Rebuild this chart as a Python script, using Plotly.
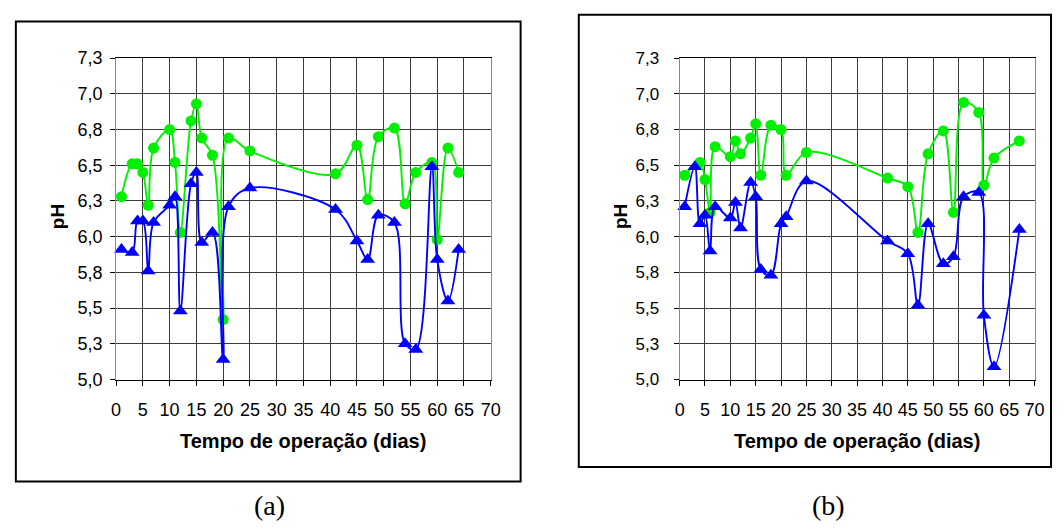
import plotly.graph_objects as go

# Reactor pH over the operation period, two runs (a) and (b)
days_a = [1, 3, 4, 5, 6, 7, 10, 11, 12, 14, 15, 16, 18, 20, 21, 25,
          41, 45, 47, 49, 52, 54, 56, 59, 60, 62, 64]
ph_a_green = [6.28, 6.51, 6.51, 6.45, 6.22, 6.62, 6.75, 6.52, 6.03, 6.81, 6.93,
              6.69, 6.57, 5.42, 6.69, 6.60, 6.44, 6.64, 6.26, 6.70, 6.76, 6.23,
              6.45, 6.52, 5.98, 6.62, 6.45]
ph_a_blue = [5.91, 5.89, 6.11, 6.11, 5.76, 6.10, 6.22, 6.28, 5.48, 6.37, 6.45,
             5.96, 6.03, 5.14, 6.21, 6.34, 6.19, 5.97, 5.84, 6.15, 6.10, 5.25,
             5.21, 6.49, 5.84, 5.55, 5.91]

days_b_green = [1, 4, 5, 6, 7, 10, 11, 12, 14, 15, 16, 18, 20, 21, 25,
                41, 45, 47, 49, 52, 54, 56, 59, 60, 62, 67]
ph_b_green = [6.43, 6.52, 6.40, 6.17, 6.63, 6.56, 6.67, 6.58, 6.69, 6.79, 6.43,
              6.78, 6.75, 6.43, 6.59, 6.41, 6.35, 6.03, 6.58, 6.74, 6.17, 6.94,
              6.87, 6.36, 6.55, 6.67]
days_b_blue = [1, 3, 4, 5, 6, 7, 10, 11, 12, 14, 15, 16, 18, 20, 21, 25,
               41, 45, 47, 49, 52, 54, 56, 59, 60, 62, 67]
ph_b_blue = [6.21, 6.49, 6.09, 6.15, 5.90, 6.21, 6.13, 6.24, 6.06, 6.38, 6.28,
             5.77, 5.73, 6.09, 6.14, 6.39, 5.97, 5.88, 5.52, 6.09, 5.81, 5.86,
             6.28, 6.31, 5.45, 5.09, 6.05]

y_ticks = [5.0, 5.25, 5.5, 5.75, 6.0, 6.25, 6.5, 6.75, 7.0, 7.25]
y_labels = ["5,0", "5,3", "5,5", "5,8", "6,0", "6,3", "6,5", "6,8", "7,0", "7,3"]
x_ticks = list(range(0, 75, 5))
x_labels = [str(v) for v in x_ticks]
panel_labels = ["(a)", "(b)"]

W, H = 1063, 531
GREEN = "#00f000"
BLUE = "#0000ff"
SANS = "Liberation Sans, Arial, sans-serif"


def px(x):
    return x / W


def py(y):
    return 1 - y / H


fig = go.Figure()


def add_series(xs, ys, color, symbol, size, xa, ya):
    fig.add_trace(go.Scatter(
        x=xs, y=ys, mode="lines+markers",
        line=dict(color=color, width=1.9, shape="spline", smoothing=1.0),
        marker=dict(color=color, symbol=symbol, size=size, line=dict(width=0)),
        xaxis=xa, yaxis=ya, showlegend=False, cliponaxis=False,
    ))


add_series(days_a, ph_a_green, GREEN, "circle", 11, "x", "y")
add_series(days_a, ph_a_blue, BLUE, "triangle-up", 13, "x", "y")
add_series(days_b_green, ph_b_green, GREEN, "circle", 11, "x2", "y2")
add_series(days_b_blue, ph_b_blue, BLUE, "triangle-up", 13, "x2", "y2")

y_top, y_bot = 50, 384
panels = [
    dict(x0=112.7, x1=492.7, frame=(11, 12, 523, 490), cx=268, ph_x=54,
         yfont=18, ystand=4),
    dict(x0=684.3, x1=1044.3, frame=(582, 5, 1061, 475), cx=835, ph_x=625,
         yfont=17, ystand=11),
]

grid = "#3c3c3c"
axis_common = dict(showgrid=True, gridcolor=grid, gridwidth=1, zeroline=False,
                   ticks="outside", ticklen=5, tickcolor="#000000", tickwidth=1,
                   showline=True, mirror=True)

layout_axes = {}
for i, p in enumerate(panels):
    sfx = "" if i == 0 else str(i + 1)
    layout_axes["xaxis" + sfx] = dict(
        axis_common, domain=[px(p["x0"]), px(p["x1"])], range=[0, 70],
        tickvals=x_ticks, ticktext=x_labels, linecolor="#000000",
        anchor="y" + sfx, ticklabelstandoff=9,
        tickfont=dict(family=SANS, size=18, color="#000000"),
    )
    layout_axes["yaxis" + sfx] = dict(
        axis_common, domain=[py(y_bot), py(y_top)], range=[5.0, 7.25],
        tickvals=y_ticks, ticktext=y_labels, linecolor="#888888",
        anchor="x" + sfx, ticklabelstandoff=p["ystand"],
        tickfont=dict(family=SANS, size=p["yfont"], color="#000000"),
    )

shapes = []
annotations = []
for i, p in enumerate(panels):
    fx0, fy0, fx1, fy1 = p["frame"]
    shapes.append(dict(type="rect", xref="paper", yref="paper",
                       x0=px(fx0), x1=px(fx1), y0=py(fy1), y1=py(fy0),
                       line=dict(color="#000000", width=2), layer="below"))
    cx = (p["x0"] + p["x1"]) / 2
    annotations.append(dict(
        text="<b>Tempo de operação (dias)</b>", xref="paper", yref="paper",
        x=px(cx), y=py(448), xanchor="center", yanchor="middle", showarrow=False,
        font=dict(family=SANS, size=20, color="#000000")))
    annotations.append(dict(
        text="<b>pH</b>", xref="paper", yref="paper", textangle=-90,
        x=px(p["ph_x"]), y=py(215), xanchor="center", yanchor="middle",
        showarrow=False, font=dict(family=SANS, size=19, color="#000000")))
    annotations.append(dict(
        text=panel_labels[i], xref="paper", yref="paper",
        x=px(p["cx"]), y=py(515), xanchor="center", yanchor="middle",
        showarrow=False,
        font=dict(family="Liberation Serif, Times New Roman, serif", size=28,
                  color="#000000")))

fig.update_layout(
    width=W, height=H, margin=dict(l=0, r=0, t=0, b=0),
    paper_bgcolor="#ffffff", plot_bgcolor="#ffffff",
    shapes=shapes, annotations=annotations, **layout_axes,
)

fig.write_html("out.html")
